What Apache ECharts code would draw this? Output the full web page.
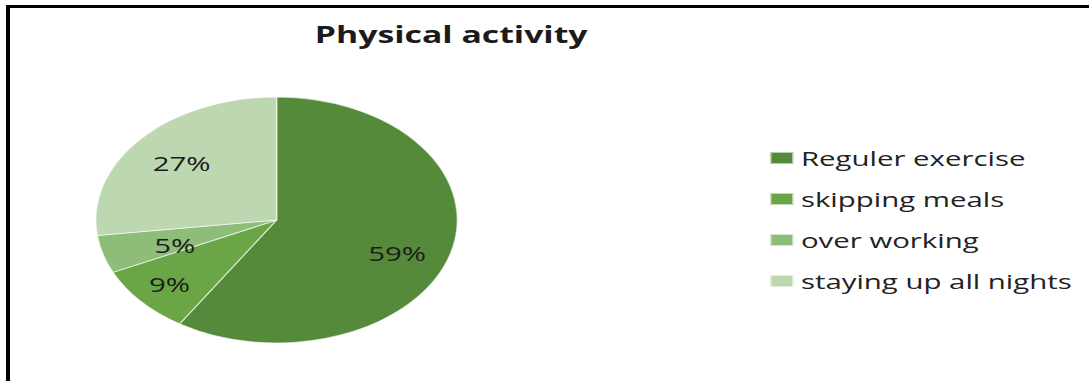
<!DOCTYPE html>
<html>
<head>
<meta charset="utf-8">
<script src="https://cdn.jsdelivr.net/npm/echarts@6/dist/echarts.min.js"></script>
<style>
  html, body { margin: 0; padding: 0; background: #ffffff; }
  #wrap { position: relative; width: 1089px; height: 381px; overflow: hidden; background: #ffffff; }
  /* chart is laid out at a narrower width and widened horizontally */
  #chart { position: absolute; left: 0; top: 0; width: 741px; height: 381px;
           transform: scaleX(1.4696); transform-origin: 0 0; }
  #frame { position: absolute; left: 6px; top: 5px; right: -10px; bottom: -10px;
           border-left: 4px solid #000; border-top: 3px solid #000; pointer-events: none; }
</style>
</head>
<body>
<div id="wrap">
  <div id="chart"></div>
  <div id="frame"></div>
</div>
<script>
// Physical activity breakdown (percent)
const titleText = 'Physical activity';
const categories = ['Reguler exercise', 'skipping meals', 'over working', 'staying up all nights'];
const shares = [59, 9, 5, 27];
const sliceColors = ['#558a3a', '#6aa546', '#8dbd78', '#bdd7b1'];
// percentage label placement: distance along the slice (fraction of radius)
// and a small turn away from the bisector (degrees, clockwise)
const labelDepth = [0.72, 0.79, 0.60, 0.70];
const labelTurn = [6, 0, -4, 0];

const FONT = '"Open Sans", "Liberation Sans", sans-serif';
const pieCenter = [188.2, 220];
const pieRadius = 123;

const chart = echarts.init(document.getElementById('chart'), null, { renderer: 'svg' });

const total = shares.reduce((a, b) => a + b, 0);
const sliceData = categories.map((name, i) => ({ name: name, value: shares[i] }));

// mid-angle of a slice, measured clockwise from 12 o'clock
function midAngle(i) {
  let before = 0;
  for (let k = 0; k < i; k++) before += shares[k];
  return ((before + shares[i] / 2) / total) * Math.PI * 2;
}

chart.setOption({
  animation: false,
  backgroundColor: 'transparent',
  color: sliceColors,
  title: {
    text: titleText,
    left: 302,
    textAlign: 'center',
    top: 17,
    textStyle: { fontFamily: FONT, fontSize: 23, fontWeight: 'bold', color: '#1b1b1b' }
  },
  legend: {
    orient: 'vertical',
    left: 523,
    top: 147,
    padding: 0,
    data: categories,
    icon: 'rect',
    itemWidth: 16,
    itemHeight: 12,
    itemGap: 19,
    selectedMode: false,
    textStyle: { fontFamily: FONT, fontSize: 20, lineHeight: 22, color: '#222222' }
  },
  series: [
    {
      // slices run clockwise from 12 o'clock
      type: 'pie',
      center: pieCenter,
      radius: pieRadius,
      startAngle: 90,
      clockwise: true,
      itemStyle: { borderColor: 'rgba(255,255,255,0.6)', borderWidth: 1 },
      emphasis: { disabled: true },
      label: {
        show: true,
        position: 'inside',
        formatter: p => p.value + '%',
        fontFamily: FONT,
        fontSize: 20,
        color: '#1c1c1c'
      },
      labelLine: { show: false },
      labelLayout: function (params) {
        const i = params.dataIndex;
        const a = midAngle(i) + labelTurn[i] * Math.PI / 180;
        const d = labelDepth[i] * pieRadius;
        return { x: pieCenter[0] + d * Math.sin(a), y: pieCenter[1] - d * Math.cos(a) };
      },
      data: sliceData
    }
  ]
});
</script>
</body>
</html>
